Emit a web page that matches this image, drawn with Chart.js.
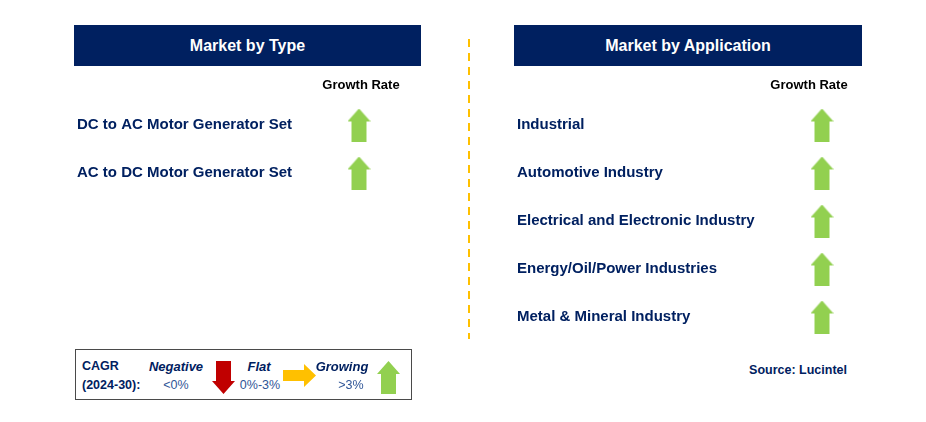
<!DOCTYPE html>
<html>
<head>
<meta charset="utf-8">
<script src="https://cdn.jsdelivr.net/npm/chart.js@4.4.0/dist/chart.umd.min.js"></script>
<style>
  body { margin: 0; background: #fff; font-family: "Liberation Sans", Arial, sans-serif; }
  #page { position: relative; width: 926px; height: 422px; overflow: hidden; }
  .header { position: absolute; top: 25px; height: 41px; background: #002060; color: #fff;
            font-weight: bold; font-size: 16px; display: flex; align-items: center; justify-content: center; }
  .divider { position: absolute; left: 468px; top: 39px; width: 2px; height: 300px;
             background: repeating-linear-gradient(to bottom, #ffc000 0 8px, transparent 8px 14px); }
  canvas.panel { position: absolute; }
  .legend { position: absolute; left: 75px; top: 349px; width: 335px; height: 49px; border: 1.5px solid #4a4a4a; }
  .t { position: absolute; transform: translate(-50%, -50%); white-space: nowrap; color: #002060; }
  .tl { position: absolute; transform: translateY(-50%); white-space: nowrap; color: #002060; }
  .b { font-weight: bold; font-size: 12.5px; }
  .bi { font-weight: bold; font-style: italic; font-size: 13px; }
  .n { font-size: 12.5px; color: #2f5597; }
  .icon { position: absolute; }
  .source { position: absolute; right: 79px; top: 370px; transform: translateY(-50%); font-weight: bold;
            font-size: 12.5px; color: #002060; }
</style>
</head>
<body>
<div id="page">
  <div class="header" style="left:74px;width:347px;">Market by Type</div>
  <div class="header" style="left:514px;width:348px;">Market by Application</div>
  <div class="divider"></div>

  <canvas id="typeChart" class="panel" width="344" height="126" style="left:77px;top:71px;"></canvas>
  <canvas id="appChart" class="panel" width="345" height="270" style="left:517px;top:71px;"></canvas>

  <div class="legend"></div>
  <div id="legendItems"></div>

  <div class="source">Source: Lucintel</div>
</div>

<script>
const growthColumn = ['Growth Rate'];

const typeSegments = ['DC to AC Motor Generator Set', 'AC to DC Motor Generator Set'];
const typeGrowth = ['Growing', 'Growing'];

const applicationSegments = [
    'Industrial',
    'Automotive Industry',
    'Electrical and Electronic Industry',
    'Energy/Oil/Power Industries',
    'Metal & Mineral Industry'
];
const applicationGrowth = ['Growing', 'Growing', 'Growing', 'Growing', 'Growing'];

const cagrPeriod = '(2024-30):';
const cagrLevels = ['Negative', 'Flat', 'Growing'];
const cagrRanges = ['<0%', '0%-3%', '>3%'];

const FONT = '"Liberation Sans", Arial, sans-serif';
Chart.defaults.font.family = FONT;

// arrow glyphs used as point styles
function makeArrow(dir, w, h, head, shaft, color) {
    const c = document.createElement('canvas');
    c.width = w;
    c.height = h;
    const ctx = c.getContext('2d');
    ctx.fillStyle = color;
    ctx.beginPath();
    let pts;
    if (dir === 'up') {
        pts = [[w / 2, 0], [w, head], [(w + shaft) / 2, head], [(w + shaft) / 2, h],
               [(w - shaft) / 2, h], [(w - shaft) / 2, head], [0, head]];
    } else if (dir === 'down') {
        pts = [[w / 2, h], [w, h - head], [(w + shaft) / 2, h - head], [(w + shaft) / 2, 0],
               [(w - shaft) / 2, 0], [(w - shaft) / 2, h - head], [0, h - head]];
    } else {
        pts = [[w, h / 2], [w - head, 0], [w - head, (h - shaft) / 2], [0, (h - shaft) / 2],
               [0, (h + shaft) / 2], [w - head, (h + shaft) / 2], [w - head, h]];
    }
    pts.forEach((p, i) => i ? ctx.lineTo(p[0], p[1]) : ctx.moveTo(p[0], p[1]));
    ctx.closePath();
    ctx.fill();
    return c;
}

const arrowFor = {
    Growing: makeArrow('up', 23, 33, 13, 15, '#92d050'),
    Flat: makeArrow('right', 33, 23, 12, 11, '#ffc000'),
    Negative: makeArrow('down', 23, 33, 13, 15, '#c00000')
};

function panelChart(id, segments, growth, yWidth, headerShift) {
    return new Chart(document.getElementById(id), {
        type: 'line',
        data: {
            datasets: [{
                data: segments.map(s => ({ x: growthColumn[0], y: s })),
                showLine: false,
                pointStyle: growth.map(g => arrowFor[g]),
                clip: false
            }]
        },
        options: {
            responsive: false,
            animation: false,
            events: [],
            layout: { padding: 0, autoPadding: false },
            plugins: { legend: { display: false }, tooltip: { enabled: false } },
            scales: {
                x: {
                    type: 'category',
                    labels: growthColumn,
                    position: 'top',
                    offset: true,
                    grid: { display: false, drawTicks: false },
                    border: { display: false },
                    ticks: {
                        padding: 8,
                        labelOffset: headerShift,
                        color: '#000',
                        font: { size: 13, weight: 'bold' }
                    },
                    afterFit: s => {
                        s.height = 30;
                        s.paddingLeft = 0;
                        s.paddingRight = 0;
                    }
                },
                y: {
                    type: 'category',
                    labels: segments,
                    offset: true,
                    grid: { display: false, drawTicks: false },
                    border: { display: false },
                    ticks: {
                        crossAlign: 'far',
                        autoSkip: false,
                        color: '#002060',
                        font: { size: 15, weight: 'bold' }
                    },
                    afterFit: s => {
                        s.width = yWidth;
                        s.paddingTop = 0;
                        s.paddingBottom = 0;
                    }
                }
            }
        }
    });
}

panelChart('typeChart', typeSegments, typeGrowth, 220, 2);
panelChart('appChart', applicationSegments, applicationGrowth, 265, -13);

// CAGR legend box
const legend = document.getElementById('legendItems');
function addText(cls, text, x, y, left) {
    const d = document.createElement('div');
    d.className = (left ? 'tl ' : 't ') + cls;
    d.style.left = x + 'px';
    d.style.top = y + 'px';
    d.textContent = text;
    legend.appendChild(d);
}
function addIcon(canvas, x, y) {
    const c = document.createElement('canvas');
    c.width = canvas.width;
    c.height = canvas.height;
    c.getContext('2d').drawImage(canvas, 0, 0);
    c.className = 'icon';
    c.style.left = x + 'px';
    c.style.top = y + 'px';
    legend.appendChild(c);
}
addText('b', 'CAGR', 82, 366, true);
addText('b', cagrPeriod, 82, 385, true);
const levelX = [176, 259, 342];
const rangeX = [176, 260, 351];
const iconPos = [[212, 361], [283, 364], [377, 361]];
cagrLevels.forEach((lvl, i) => {
    addText('bi', lvl, levelX[i], 366);
    addText('n', cagrRanges[i], rangeX[i], 385);
    addIcon(arrowFor[lvl], iconPos[i][0], iconPos[i][1]);
});
</script>
</body>
</html>
